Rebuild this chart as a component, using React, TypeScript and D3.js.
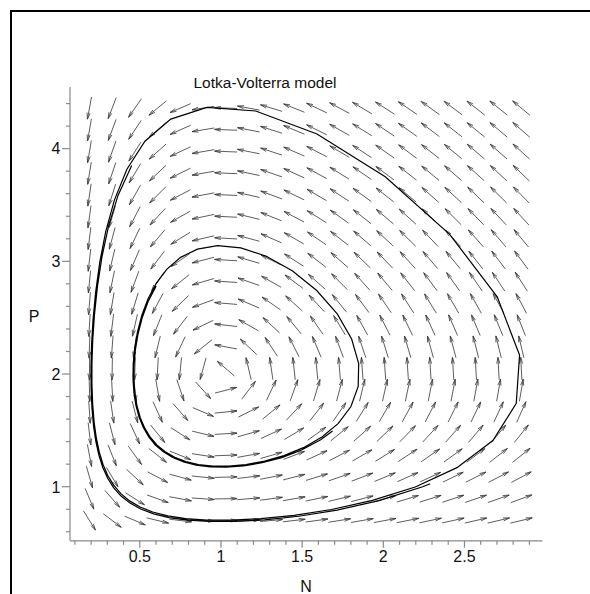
import React from "react";
import * as d3 from "d3";

// Lotka-Volterra:  N' = N*(a - b*P),  P' = P*(c*N - d)
const coefA = 2;
const coefB = 1;
const coefC = 1;
const coefD = 1;

// grid of the direction field (20 x 20)
const gridN = [0.19, 0.33, 0.47, 0.61, 0.75, 0.89, 1.03, 1.17, 1.31, 1.45, 1.59, 1.73, 1.87, 2.01, 2.15, 2.29, 2.43, 2.57, 2.71, 2.85];
const gridP = [0.7, 0.893, 1.085, 1.278, 1.47, 1.663, 1.856, 2.048, 2.241, 2.433, 2.626, 2.819, 3.011, 3.204, 3.396, 3.589, 3.782, 3.974, 4.167, 4.36];

// initial conditions of the two solution curves
const initN = [0.45, 0.6];
const initP = [3.85, 2.78];
const tEnd = [8.3, 7.4];
const stepSize = 0.003; // solver step
const plotEvery = 40; // one plotted vertex every 40 steps

const xTicks = [0.5, 1, 1.5, 2, 2.5];
const xTickLabels = ["0.5", "1", "1.5", "2", "2.5"];
const yTicks = [1, 2, 3, 4];
const yTickLabels = ["1", "2", "3", "4"];

const FONT = "'Liberation Sans', Arial, Helvetica, sans-serif";

const field = (n: number, p: number): [number, number] => [
  n * (coefA - coefB * p),
  p * (coefC * n - coefD),
];

// classical forward Euler
const solve = (n0: number, p0: number, t1: number, h: number) => {
  const pts: [number, number][] = [[n0, p0]];
  let n = n0, p = p0;
  const steps = Math.round(t1 / h);
  for (let s = 1; s <= steps; s++) {
    const [fn, fp] = field(n, p);
    n += h * fn;
    p += h * fp;
    if (s % plotEvery === 0 || s === steps) pts.push([n, p]);
  }
  return pts;
};

export default function App() {
  const width = 590;
  const height = 594;

  const x = d3.scaleLinear().domain([0.07, 2.98]).range([70, 542.4]);
  const y = d3.scaleLinear().domain([0.52, 4.547]).range([540.8, 87]);

  const kx = x(1) - x(0);
  const ky = y(0) - y(1);
  const arrowLen = 22.5;
  const headLen = 6.5;
  const headAng = 0.24;

  const arrows: string[] = [];
  gridN.forEach((n) => {
    gridP.forEach((p) => {
      const [fn, fp] = field(n, p);
      let vx = fn * kx;
      let vy = -fp * ky;
      const m = Math.hypot(vx, vy) || 1;
      vx = (vx / m) * arrowLen;
      vy = (vy / m) * arrowLen;
      const cx = x(n), cy = y(p);
      const tx = cx - vx / 2, ty = cy - vy / 2;
      const hx = cx + vx / 2, hy = cy + vy / 2;
      const ang = Math.atan2(vy, vx);
      const b1x = hx - headLen * Math.cos(ang - headAng);
      const b1y = hy - headLen * Math.sin(ang - headAng);
      const b2x = hx - headLen * Math.cos(ang + headAng);
      const b2y = hy - headLen * Math.sin(ang + headAng);
      arrows.push(`M${tx},${ty}L${hx},${hy}M${b1x},${b1y}L${hx},${hy}L${b2x},${b2y}`);
    });
  });

  const line = d3.line<[number, number]>().x((d) => x(d[0])).y((d) => y(d[1]));
  const curves = initN.map((n0, i) => line(solve(n0, initP[i], tEnd[i], stepSize)) || "");

  const xMinor = d3.range(1, 30).map((k) => k / 10);
  const yMinor = d3.range(3, 23).map((k) => k / 5);

  const axisColor = "#8a8a8a";

  return (
    <svg width={width} height={height} style={{ position: "absolute", left: 0, top: 0, background: "#fff" }}>
      <rect x={11} y={11} width={620} height={620} fill="#fff" stroke="#000" strokeWidth={2} />

      {/* direction field */}
      <path d={arrows.join("")} fill="none" stroke="#333" strokeWidth={0.8} />

      {/* solution curves */}
      {curves.map((d, i) => (
        <path key={i} d={d} fill="none" stroke="#000" strokeWidth={1.2} />
      ))}

      {/* axes */}
      <g stroke={axisColor} strokeWidth={1.2} fill="none">
        <line x1={70} y1={540.8} x2={542.4} y2={540.8} />
        <line x1={70} y1={87} x2={70} y2={540.8} />
        {xMinor.map((v) => {
          const major = Math.abs(v * 2 - Math.round(v * 2)) < 1e-6;
          return <line key={"xm" + v} x1={x(v)} x2={x(v)} y1={540.8} y2={540.8 + (major ? 7 : 4)} />;
        })}
        {yMinor.map((v) => {
          const major = Math.abs(v - Math.round(v)) < 1e-6;
          return <line key={"ym" + v} x1={70} x2={70 - (major ? 8 : 4)} y1={y(v)} y2={y(v)} />;
        })}
      </g>

      <g fontFamily={FONT} fontSize={16} fill="#111">
        {xTicks.map((v, i) => (
          <text key={"xt" + v} x={x(v)} y={561.5} textAnchor="middle">{xTickLabels[i]}</text>
        ))}
        {yTicks.map((v, i) => (
          <text key={"yt" + v} x={60.5} y={y(v) + 5.8} textAnchor="end">{yTickLabels[i]}</text>
        ))}
        <text x={306} y={591.5} textAnchor="middle">N</text>
        <text x={34} y={321.5} textAnchor="middle">P</text>
        <text x={265} y={88.3} textAnchor="middle" fontSize={15.5}>Lotka-Volterra model</text>
      </g>
    </svg>
  );
}
